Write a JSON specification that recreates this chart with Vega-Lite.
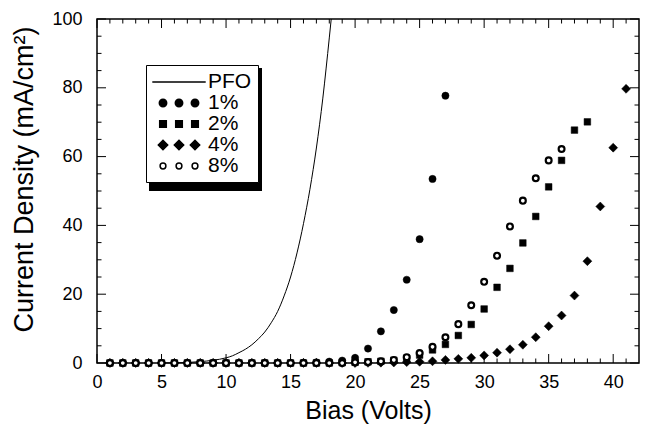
{
  "$schema": "https://vega.github.io/schema/vega-lite/v6.json",
  "width": 542,
  "height": 344,
  "autosize": "none",
  "padding": {"left": 97, "top": 19, "right": 8, "bottom": 67},
  "config": {
    "view": {"stroke": "black", "strokeWidth": 1.5},
    "font": "Liberation Sans",
    "axis": {"grid": false, "domain": false, "ticks": false}
  },
  "datasets": {
    "xticks": [
      {"value": 0, "kind": "major"}, {"value": 1, "kind": "minor"}, {"value": 2, "kind": "minor"}, {"value": 3, "kind": "minor"},
      {"value": 4, "kind": "minor"}, {"value": 5, "kind": "major"}, {"value": 6, "kind": "minor"}, {"value": 7, "kind": "minor"},
      {"value": 8, "kind": "minor"}, {"value": 9, "kind": "minor"}, {"value": 10, "kind": "major"}, {"value": 11, "kind": "minor"},
      {"value": 12, "kind": "minor"}, {"value": 13, "kind": "minor"}, {"value": 14, "kind": "minor"}, {"value": 15, "kind": "major"},
      {"value": 16, "kind": "minor"}, {"value": 17, "kind": "minor"}, {"value": 18, "kind": "minor"}, {"value": 19, "kind": "minor"},
      {"value": 20, "kind": "major"}, {"value": 21, "kind": "minor"}, {"value": 22, "kind": "minor"}, {"value": 23, "kind": "minor"},
      {"value": 24, "kind": "minor"}, {"value": 25, "kind": "major"}, {"value": 26, "kind": "minor"}, {"value": 27, "kind": "minor"},
      {"value": 28, "kind": "minor"}, {"value": 29, "kind": "minor"}, {"value": 30, "kind": "major"}, {"value": 31, "kind": "minor"},
      {"value": 32, "kind": "minor"}, {"value": 33, "kind": "minor"}, {"value": 34, "kind": "minor"}, {"value": 35, "kind": "major"},
      {"value": 36, "kind": "minor"}, {"value": 37, "kind": "minor"}, {"value": 38, "kind": "minor"}, {"value": 39, "kind": "minor"},
      {"value": 40, "kind": "major"}, {"value": 41, "kind": "minor"}
    ],
    "yticks": [
      {"value": 0, "kind": "major"}, {"value": 5, "kind": "minor"}, {"value": 10, "kind": "minor"}, {"value": 15, "kind": "minor"},
      {"value": 20, "kind": "major"}, {"value": 25, "kind": "minor"}, {"value": 30, "kind": "minor"}, {"value": 35, "kind": "minor"},
      {"value": 40, "kind": "major"}, {"value": 45, "kind": "minor"}, {"value": 50, "kind": "minor"}, {"value": 55, "kind": "minor"},
      {"value": 60, "kind": "major"}, {"value": 65, "kind": "minor"}, {"value": 70, "kind": "minor"}, {"value": 75, "kind": "minor"},
      {"value": 80, "kind": "major"}, {"value": 85, "kind": "minor"}, {"value": 90, "kind": "minor"}, {"value": 95, "kind": "minor"},
      {"value": 100, "kind": "major"}
    ]
  },
  "data": {
    "values": [
      {"series": "PFO", "bias": 5, "j": 0},
      {"series": "PFO", "bias": 6, "j": 0.05},
      {"series": "PFO", "bias": 7, "j": 0.15},
      {"series": "PFO", "bias": 8, "j": 0.4},
      {"series": "PFO", "bias": 9, "j": 0.8},
      {"series": "PFO", "bias": 10, "j": 1.5},
      {"series": "PFO", "bias": 10.5, "j": 2.1},
      {"series": "PFO", "bias": 11, "j": 3.0},
      {"series": "PFO", "bias": 11.5, "j": 4.0},
      {"series": "PFO", "bias": 12, "j": 5.3},
      {"series": "PFO", "bias": 12.5, "j": 7.0},
      {"series": "PFO", "bias": 13, "j": 9.0},
      {"series": "PFO", "bias": 13.5, "j": 11.7},
      {"series": "PFO", "bias": 14, "j": 15.0},
      {"series": "PFO", "bias": 14.5, "j": 19.5},
      {"series": "PFO", "bias": 15, "j": 25.0},
      {"series": "PFO", "bias": 15.5, "j": 32.0},
      {"series": "PFO", "bias": 16, "j": 40.5},
      {"series": "PFO", "bias": 16.5, "j": 50.5},
      {"series": "PFO", "bias": 17, "j": 62.5},
      {"series": "PFO", "bias": 17.5, "j": 77.0},
      {"series": "PFO", "bias": 18, "j": 94.5},
      {"series": "PFO", "bias": 18.15, "j": 100},

      {"series": "1%", "bias": 1, "j": 0}, {"series": "1%", "bias": 2, "j": 0}, {"series": "1%", "bias": 3, "j": 0},
      {"series": "1%", "bias": 4, "j": 0}, {"series": "1%", "bias": 5, "j": 0}, {"series": "1%", "bias": 6, "j": 0},
      {"series": "1%", "bias": 7, "j": 0}, {"series": "1%", "bias": 8, "j": 0}, {"series": "1%", "bias": 9, "j": 0},
      {"series": "1%", "bias": 10, "j": 0}, {"series": "1%", "bias": 11, "j": 0}, {"series": "1%", "bias": 12, "j": 0},
      {"series": "1%", "bias": 13, "j": 0}, {"series": "1%", "bias": 14, "j": 0}, {"series": "1%", "bias": 15, "j": 0},
      {"series": "1%", "bias": 16, "j": 0.1}, {"series": "1%", "bias": 17, "j": 0.2}, {"series": "1%", "bias": 18, "j": 0.4},
      {"series": "1%", "bias": 19, "j": 0.7}, {"series": "1%", "bias": 20, "j": 1.5}, {"series": "1%", "bias": 21, "j": 4.2},
      {"series": "1%", "bias": 22, "j": 9.2}, {"series": "1%", "bias": 23, "j": 15.4}, {"series": "1%", "bias": 24, "j": 24.2},
      {"series": "1%", "bias": 25, "j": 36.0}, {"series": "1%", "bias": 26, "j": 53.5}, {"series": "1%", "bias": 27, "j": 77.7},

      {"series": "2%", "bias": 1, "j": 0}, {"series": "2%", "bias": 2, "j": 0}, {"series": "2%", "bias": 3, "j": 0},
      {"series": "2%", "bias": 4, "j": 0}, {"series": "2%", "bias": 5, "j": 0}, {"series": "2%", "bias": 6, "j": 0},
      {"series": "2%", "bias": 7, "j": 0}, {"series": "2%", "bias": 8, "j": 0}, {"series": "2%", "bias": 9, "j": 0},
      {"series": "2%", "bias": 10, "j": 0}, {"series": "2%", "bias": 11, "j": 0}, {"series": "2%", "bias": 12, "j": 0},
      {"series": "2%", "bias": 13, "j": 0}, {"series": "2%", "bias": 14, "j": 0}, {"series": "2%", "bias": 15, "j": 0},
      {"series": "2%", "bias": 16, "j": 0}, {"series": "2%", "bias": 17, "j": 0}, {"series": "2%", "bias": 18, "j": 0},
      {"series": "2%", "bias": 19, "j": 0.1}, {"series": "2%", "bias": 20, "j": 0.2}, {"series": "2%", "bias": 21, "j": 0.35},
      {"series": "2%", "bias": 22, "j": 0.5}, {"series": "2%", "bias": 23, "j": 0.8}, {"series": "2%", "bias": 24, "j": 1.4},
      {"series": "2%", "bias": 25, "j": 2.3}, {"series": "2%", "bias": 26, "j": 3.8}, {"series": "2%", "bias": 27, "j": 5.4},
      {"series": "2%", "bias": 28, "j": 8.0}, {"series": "2%", "bias": 29, "j": 11.2}, {"series": "2%", "bias": 30, "j": 15.7},
      {"series": "2%", "bias": 31, "j": 22.0}, {"series": "2%", "bias": 32, "j": 27.5}, {"series": "2%", "bias": 33, "j": 34.9},
      {"series": "2%", "bias": 34, "j": 42.6}, {"series": "2%", "bias": 35, "j": 51.2}, {"series": "2%", "bias": 36, "j": 58.9},
      {"series": "2%", "bias": 37, "j": 67.7}, {"series": "2%", "bias": 38, "j": 70.1},

      {"series": "4%", "bias": 1, "j": 0}, {"series": "4%", "bias": 2, "j": 0}, {"series": "4%", "bias": 3, "j": 0},
      {"series": "4%", "bias": 4, "j": 0}, {"series": "4%", "bias": 5, "j": 0}, {"series": "4%", "bias": 6, "j": 0},
      {"series": "4%", "bias": 7, "j": 0}, {"series": "4%", "bias": 8, "j": 0}, {"series": "4%", "bias": 9, "j": 0},
      {"series": "4%", "bias": 10, "j": 0}, {"series": "4%", "bias": 11, "j": 0}, {"series": "4%", "bias": 12, "j": 0},
      {"series": "4%", "bias": 13, "j": 0}, {"series": "4%", "bias": 14, "j": 0}, {"series": "4%", "bias": 15, "j": 0},
      {"series": "4%", "bias": 16, "j": 0}, {"series": "4%", "bias": 17, "j": 0}, {"series": "4%", "bias": 18, "j": 0},
      {"series": "4%", "bias": 19, "j": 0}, {"series": "4%", "bias": 20, "j": 0}, {"series": "4%", "bias": 21, "j": 0.05},
      {"series": "4%", "bias": 22, "j": 0.1}, {"series": "4%", "bias": 23, "j": 0.15}, {"series": "4%", "bias": 24, "j": 0.25},
      {"series": "4%", "bias": 25, "j": 0.35}, {"series": "4%", "bias": 26, "j": 0.5}, {"series": "4%", "bias": 27, "j": 0.9},
      {"series": "4%", "bias": 28, "j": 1.2}, {"series": "4%", "bias": 29, "j": 1.5}, {"series": "4%", "bias": 30, "j": 2.2},
      {"series": "4%", "bias": 31, "j": 3.0}, {"series": "4%", "bias": 32, "j": 4.0}, {"series": "4%", "bias": 33, "j": 5.3},
      {"series": "4%", "bias": 34, "j": 7.5}, {"series": "4%", "bias": 35, "j": 10.7}, {"series": "4%", "bias": 36, "j": 13.8},
      {"series": "4%", "bias": 37, "j": 19.6}, {"series": "4%", "bias": 38, "j": 29.6}, {"series": "4%", "bias": 39, "j": 45.5},
      {"series": "4%", "bias": 40, "j": 62.6}, {"series": "4%", "bias": 41, "j": 79.7},

      {"series": "8%", "bias": 1, "j": 0}, {"series": "8%", "bias": 2, "j": 0}, {"series": "8%", "bias": 3, "j": 0},
      {"series": "8%", "bias": 4, "j": 0}, {"series": "8%", "bias": 5, "j": 0}, {"series": "8%", "bias": 6, "j": 0},
      {"series": "8%", "bias": 7, "j": 0}, {"series": "8%", "bias": 8, "j": 0}, {"series": "8%", "bias": 9, "j": 0},
      {"series": "8%", "bias": 10, "j": 0}, {"series": "8%", "bias": 11, "j": 0}, {"series": "8%", "bias": 12, "j": 0},
      {"series": "8%", "bias": 13, "j": 0}, {"series": "8%", "bias": 14, "j": 0}, {"series": "8%", "bias": 15, "j": 0},
      {"series": "8%", "bias": 16, "j": 0}, {"series": "8%", "bias": 17, "j": 0}, {"series": "8%", "bias": 18, "j": 0},
      {"series": "8%", "bias": 19, "j": 0}, {"series": "8%", "bias": 20, "j": 0.2}, {"series": "8%", "bias": 21, "j": 0.3},
      {"series": "8%", "bias": 22, "j": 0.5}, {"series": "8%", "bias": 23, "j": 0.9}, {"series": "8%", "bias": 24, "j": 1.7},
      {"series": "8%", "bias": 25, "j": 2.9}, {"series": "8%", "bias": 26, "j": 4.7}, {"series": "8%", "bias": 27, "j": 7.5},
      {"series": "8%", "bias": 28, "j": 11.3}, {"series": "8%", "bias": 29, "j": 16.8}, {"series": "8%", "bias": 30, "j": 23.6},
      {"series": "8%", "bias": 31, "j": 31.2}, {"series": "8%", "bias": 32, "j": 39.7}, {"series": "8%", "bias": 33, "j": 47.2},
      {"series": "8%", "bias": 34, "j": 53.7}, {"series": "8%", "bias": 35, "j": 58.9}, {"series": "8%", "bias": 36, "j": 62.2}
    ]
  },
  "layer": [
    {
      "description": "Labelled bottom and left axes, plus an invisible mark whose legend draws the key's drop shadow",
      "mark": {"type": "point", "filled": true, "opacity": 0},
      "encoding": {
        "x": {
          "field": "bias",
          "type": "quantitative",
          "scale": {"domain": [0, 42], "nice": false, "zero": false},
          "axis": {
            "orient": "bottom",
            "values": [0, 5, 10, 15, 20, 25, 30, 35, 40],
            "labelFont": "Liberation Sans",
            "labelFontSize": 18,
            "labelColor": "black",
            "labelPadding": 10,
            "labelFlush": false,
            "labelOverlap": false,
            "title": "Bias (Volts)",
            "titleFont": "Liberation Sans",
            "titleFontSize": 25,
            "titleFontWeight": "normal",
            "titleColor": "black",
            "titleY": 55,
            "titleBaseline": "alphabetic"
          }
        },
        "y": {
          "field": "j",
          "type": "quantitative",
          "scale": {"domain": [0, 100], "nice": false},
          "axis": {
            "orient": "left",
            "values": [0, 20, 40, 60, 80, 100],
            "labelFont": "Liberation Sans",
            "labelFontSize": 18,
            "labelColor": "black",
            "labelPadding": 15,
            "labelFlush": false,
            "labelOverlap": false,
            "title": "Current Density (mA/cm²)",
            "titleFont": "Liberation Sans",
            "titleFontSize": 27,
            "titleFontWeight": "normal",
            "titleColor": "black",
            "titleX": -65,
            "titleY": 160,
            "titleBaseline": "alphabetic"
          }
        },
        "color": {
          "field": "series",
          "type": "nominal",
          "scale": {"range": ["black"]},
          "legend": {
            "orient": "none",
            "legendX": 53,
            "legendY": 50,
            "title": null,
            "fillColor": "black",
            "strokeColor": "black",
            "padding": 6,
            "rowPadding": 0,
            "symbolSize": 400,
            "symbolOffset": 16,
            "symbolStrokeWidth": 0,
            "symbolType": "M-2.73,-1L7.19,-1L7.19,1L-2.73,1Z",
            "symbolOpacity": 1,
            "labelExpr": "''",
            "labelFont": "Liberation Sans",
            "labelFontSize": 21,
            "labelOffset": 18,
            "encode": {"legend": {"update": {"strokeWidth": {"value": 2}}}}
          }
        }
      }
    },
    {
      "description": "PFO curve",
      "transform": [{"filter": "datum.series === 'PFO'"}],
      "mark": {"type": "line", "stroke": "black", "strokeWidth": 1, "interpolate": "monotone"},
      "encoding": {
        "x": {"field": "bias", "type": "quantitative", "axis": null},
        "y": {"field": "j", "type": "quantitative", "axis": null}
      }
    },
    {
      "description": "Bottom ticks: a one-sided stroke symbol pointing up into the frame",
      "data": {"name": "xticks"},
      "mark": {"type": "point", "shape": "M0,0L0,-1", "filled": false, "stroke": "black", "strokeWidth": 1, "opacity": 1},
      "encoding": {
        "x": {"field": "value", "type": "quantitative", "axis": null},
        "y": {"datum": 0, "type": "quantitative", "axis": null},
        "size": {"field": "kind", "type": "nominal", "legend": null, "scale": {"type": "ordinal", "domain": ["major", "minor"], "range": [324, 81]}}
      }
    },
    {
      "description": "Top ticks pointing down into the frame",
      "data": {"name": "xticks"},
      "mark": {"type": "point", "shape": "M0,0L0,1", "filled": false, "stroke": "black", "strokeWidth": 1, "opacity": 1},
      "encoding": {
        "x": {"field": "value", "type": "quantitative", "axis": null},
        "y": {"datum": 100, "type": "quantitative", "axis": null},
        "size": {"field": "kind", "type": "nominal", "legend": null, "scale": {"type": "ordinal", "domain": ["major", "minor"], "range": [324, 81]}}
      }
    },
    {
      "description": "Left ticks pointing right into the frame",
      "data": {"name": "yticks"},
      "mark": {"type": "point", "shape": "M0,0L1,0", "filled": false, "stroke": "black", "strokeWidth": 1, "opacity": 1},
      "encoding": {
        "y": {"field": "value", "type": "quantitative", "axis": null},
        "x": {"datum": 0, "type": "quantitative", "axis": null},
        "size": {"field": "kind", "type": "nominal", "legend": null, "scale": {"type": "ordinal", "domain": ["major", "minor"], "range": [324, 81]}}
      }
    },
    {
      "description": "Right ticks pointing left into the frame",
      "data": {"name": "yticks"},
      "mark": {"type": "point", "shape": "M0,0L-1,0", "filled": false, "stroke": "black", "strokeWidth": 1, "opacity": 1},
      "encoding": {
        "y": {"field": "value", "type": "quantitative", "axis": null},
        "x": {"datum": 42, "type": "quantitative", "axis": null},
        "size": {"field": "kind", "type": "nominal", "legend": null, "scale": {"type": "ordinal", "domain": ["major", "minor"], "range": [324, 81]}}
      }
    },
    {
      "description": "Marker series",
      "transform": [{"filter": "datum.series !== 'PFO'"}],
      "mark": {"type": "point", "filled": true, "stroke": "black", "opacity": 1},
      "encoding": {
        "x": {"field": "bias", "type": "quantitative", "axis": null},
        "y": {"field": "j", "type": "quantitative", "axis": null},
        "shape": {
          "field": "series", "type": "nominal", "legend": null,
          "scale": {"domain": ["1%", "2%", "4%", "8%"], "range": ["circle", "square", "diamond", "circle"]}
        },
        "fill": {
          "field": "series", "type": "nominal", "legend": null,
          "scale": {"domain": ["1%", "2%", "4%", "8%"], "range": ["black", "black", "black", "white"]}
        },
        "size": {
          "field": "series", "type": "nominal", "legend": null,
          "scale": {"type": "ordinal", "domain": ["1%", "2%", "4%", "8%"], "range": [52, 44, 80, 34]}
        },
        "strokeWidth": {
          "field": "series", "type": "nominal", "legend": null,
          "scale": {"type": "ordinal", "domain": ["1%", "2%", "4%", "8%"], "range": [0.5, 0.5, 0.5, 2.2]}
        }
      }
    },
    {
      "description": "Invisible marks whose legend is the key: a line for PFO and three markers per doping level",
      "mark": {"type": "point", "filled": true, "opacity": 0},
      "encoding": {
        "x": {"field": "bias", "type": "quantitative", "axis": null},
        "y": {"field": "j", "type": "quantitative", "axis": null},
        "shape": {
          "field": "series",
          "type": "nominal",
          "scale": {
            "domain": ["PFO", "1%", "2%", "4%", "8%"],
            "range": [
              "M-2.67,0L2.67,0",
              "M-1.23,0C-1.23,0.204 -1.396,0.37 -1.6,0.37C-1.804,0.37 -1.97,0.204 -1.97,0C-1.97,-0.204 -1.804,-0.37 -1.6,-0.37C-1.396,-0.37 -1.23,-0.204 -1.23,0Z M0.37,0C0.37,0.204 0.204,0.37 0,0.37C-0.204,0.37 -0.37,0.204 -0.37,0C-0.37,-0.204 -0.204,-0.37 0,-0.37C0.204,-0.37 0.37,-0.204 0.37,0Z M1.97,0C1.97,0.204 1.804,0.37 1.6,0.37C1.396,0.37 1.23,0.204 1.23,0C1.23,-0.204 1.396,-0.37 1.6,-0.37C1.804,-0.37 1.97,-0.204 1.97,0Z",
              "M-1.93,-0.33L-1.27,-0.33L-1.27,0.33L-1.93,0.33Z M-0.33,-0.33L0.33,-0.33L0.33,0.33L-0.33,0.33Z M1.27,-0.33L1.93,-0.33L1.93,0.33L1.27,0.33Z",
              "M-2.07,0L-1.6,-0.47L-1.13,0L-1.6,0.47Z M-0.47,0L0,-0.47L0.47,0L0,0.47Z M1.13,0L1.6,-0.47L2.07,0L1.6,0.47Z",
              "M-1.31,0C-1.31,0.16 -1.44,0.29 -1.6,0.29C-1.76,0.29 -1.89,0.16 -1.89,0C-1.89,-0.16 -1.76,-0.29 -1.6,-0.29C-1.44,-0.29 -1.31,-0.16 -1.31,0Z M0.29,0C0.29,0.16 0.16,0.29 0,0.29C-0.16,0.29 -0.29,0.16 -0.29,0C-0.29,-0.16 -0.16,-0.29 0,-0.29C0.16,-0.29 0.29,-0.16 0.29,0Z M1.89,0C1.89,0.16 1.76,0.29 1.6,0.29C1.44,0.29 1.31,0.16 1.31,0C1.31,-0.16 1.44,-0.29 1.6,-0.29C1.76,-0.29 1.89,-0.16 1.89,0Z"
            ]
          },
          "legend": {
            "orient": "none",
            "legendX": 49,
            "legendY": 46,
            "title": null,
            "fillColor": "white",
            "strokeColor": "black",
            "padding": 6,
            "rowPadding": 0,
            "symbolSize": 400,
            "symbolOffset": 16,
            "symbolOpacity": 1,
            "labelFont": "Liberation Sans",
            "labelFontSize": 21,
            "labelOffset": 18,
            "labelColor": "black",
            "encode": {
              "legend": {"update": {"strokeWidth": {"value": 2}}},
              "symbols": {"update": {"strokeWidth": {"signal": "datum.value === '8%' ? 2.2 : datum.value === 'PFO' ? 1.3 : 0.5"}}}
            }
          }
        },
        "fill": {
          "field": "series",
          "type": "nominal",
          "scale": {"domain": ["PFO", "1%", "2%", "4%", "8%"], "range": ["black", "black", "black", "black", "white"]}
        },
        "stroke": {
          "field": "series",
          "type": "nominal",
          "scale": {"domain": ["PFO", "1%", "2%", "4%", "8%"], "range": ["black", "black", "black", "black", "black"]}
        }
      }
    }
  ],
  "resolve": {
    "scale": {"shape": "independent", "fill": "independent", "stroke": "independent", "size": "independent", "strokeWidth": "independent"},
    "axis": {"x": "independent", "y": "independent"}
  }
}
